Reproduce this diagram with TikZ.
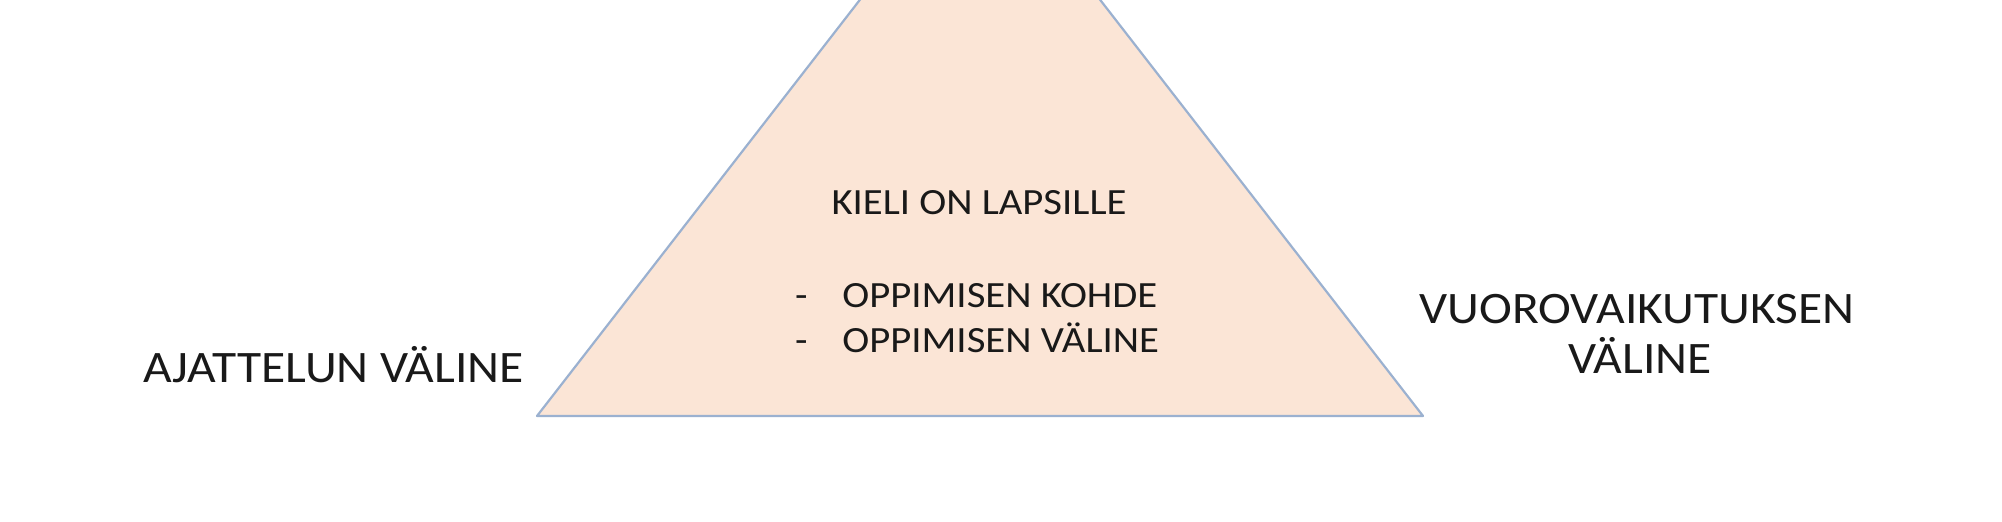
\documentclass[tikz,border=0pt]{standalone}
\usepackage{fontspec}
\setmainfont{Carlito}[FakeStretch=1.1]
\usetikzlibrary{positioning}
\definecolor{pyramidfill}{RGB}{251,229,214}
\definecolor{pyramidline}{RGB}{155,177,208}
\definecolor{labeltext}{RGB}{25,25,25}
\newcommand{\smalltext}{\fontsize{18.5}{22}\selectfont}
\newcommand{\bigtext}{\fontsize{22.5}{27}\selectfont}

\begin{document}
\begin{tikzpicture}[x=0.5pt, y=0.5pt, anchor=base, inner sep=0pt, node distance=17pt,
    every node/.style={text=labeltext}]
    \useasboundingbox (0,0) rectangle (2002,522);
    \clip (0,0) rectangle (2002,522);
    \coordinate (apex) at (980,677);
    \coordinate (baseleft) at (537,106);
    \coordinate (baseright) at (1423,106);
    \path [fill=pyramidfill, draw=pyramidline, line width=1.1pt, line join=round]
      (baseleft) -- (apex) -- (baseright) -- cycle;

    \node [font=\smalltext] (title) at (979,307) {KIELI ON LAPSILLE};
      \node [font=\smalltext, anchor=base west] (kohde) at (842,214) {OPPIMISEN KOHDE};
      \node [font=\smalltext, anchor=base west] (valine) at (842,169) {OPPIMISEN VÄLINE};
      \node [font=\smalltext, base left=of kohde] (dasha) {-};
      \node [font=\smalltext, base left=of valine] (dashb) {-};

    \node [font=\bigtext, anchor=base west] (ajattelu) at (143,139) {AJATTELUN VÄLINE};
    \node [font=\bigtext] (vuoro) at (1637,198) {VUOROVAIKUTUKSEN};
    \node [font=\bigtext] (vuorovaline) at (1640,148) {VÄLINE};
  \end{tikzpicture}
\end{document}
